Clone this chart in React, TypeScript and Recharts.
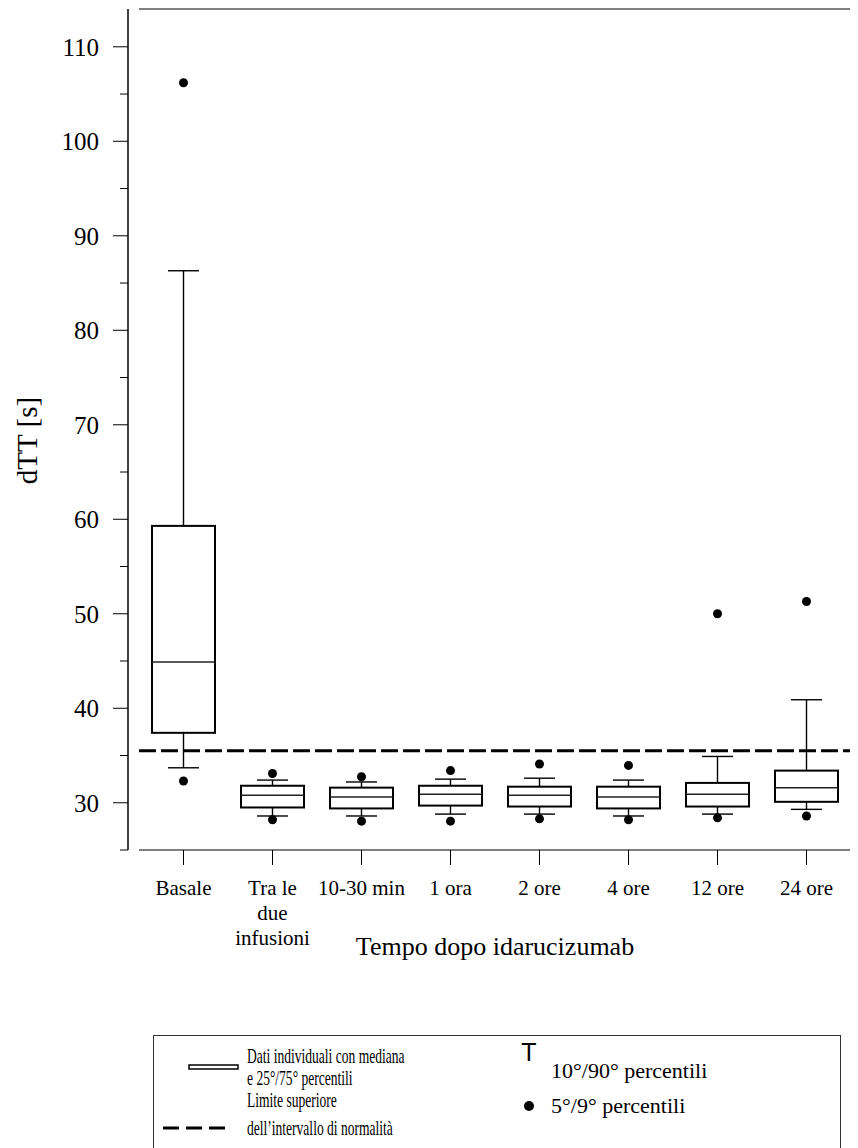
import React from 'react';
import { ComposedChart, Bar, Scatter, XAxis, YAxis, ReferenceLine } from 'recharts';

// dTT per timepoint: box = 25th/75th, whiskers = 10th/90th, dots = 5th/95th
const categories = ['Basale', 'Tra le\ndue\ninfusioni', '10-30 min', '1 ora', '2 ore', '4 ore', '12 ore', '24 ore'];
const p5 = [32.3, 28.2, 28.05, 28.05, 28.3, 28.2, 28.4, 28.6];
const p10 = [33.7, 28.6, 28.6, 28.8, 28.8, 28.6, 28.8, 29.3];
const q1 = [37.4, 29.5, 29.4, 29.7, 29.6, 29.4, 29.6, 30.1];
const median = [44.9, 30.8, 30.6, 30.9, 30.8, 30.6, 30.9, 31.6];
const q3 = [59.3, 31.8, 31.6, 31.8, 31.7, 31.7, 32.1, 33.4];
const p90 = [86.3, 32.4, 32.2, 32.5, 32.6, 32.4, 34.9, 40.9];
const p95 = [106.2, 33.1, 32.75, 33.4, 34.1, 33.95, 50.0, 51.3];

const upperNormalLimit = 35.5;
const yTicks = [25, 30, 35, 40, 45, 50, 55, 60, 65, 70, 75, 80, 85, 90, 95, 100, 105, 110];
const yLabelled = [30, 40, 50, 60, 70, 80, 90, 100, 110];

const data = categories.map((name, i) => ({
  name,
  p5: p5[i],
  p10: p10[i],
  q1: q1[i],
  median: median[i],
  q3: q3[i],
  p90: p90[i],
  p95: p95[i],
}));

const SERIF = '"Liberation Serif", "Times New Roman", serif';
const SANS = '"Liberation Sans", Arial, sans-serif';

// the bar spans p10..p90, everything else is placed relative to it
const BoxShape = (props: any) => {
  const { x, y, width, height, payload } = props;
  const k = height / (payload.p90 - payload.p10);
  const toY = (v: number) => y + (payload.p90 - v) * k;
  const cx = x + width / 2;
  const cap = 15.5;
  const top = toY(payload.q3);
  const bottom = toY(payload.q1);
  return (
    <g>
      <line x1={cx} x2={cx} y1={y} y2={y + height} stroke="#000" strokeWidth={1.4} />
      <line x1={cx - cap} x2={cx + cap} y1={y} y2={y} stroke="#000" strokeWidth={1.4} />
      <line x1={cx - cap} x2={cx + cap} y1={y + height} y2={y + height} stroke="#000" strokeWidth={1.4} />
      <rect x={x} y={top} width={width} height={bottom - top} fill="#fff" stroke="#000" strokeWidth={2} />
      <line x1={x} x2={x + width} y1={toY(payload.median)} y2={toY(payload.median)} stroke="#222" strokeWidth={1.5} />
    </g>
  );
};

const Dot = (props: any) => <circle cx={props.cx} cy={props.cy} r={4.5} fill="#000" />;

const YTick = (props: any) => {
  const { x, y, payload } = props;
  const major = yLabelled.includes(payload.value);
  return (
    <g>
      <line x1={x - (major ? 15 : 8)} x2={x} y1={y} y2={y} stroke="#000" strokeWidth={1} />
      {major && (
        <text x={x - 29} y={y} dy="0.35em" textAnchor="end" fontFamily={SERIF} fontSize={25} fill="#000">
          {payload.value}
        </text>
      )}
    </g>
  );
};

const XTick = (props: any) => {
  const { x, y, payload } = props;
  const lines = String(payload.value).split('\n');
  return (
    <text x={x} y={y + 30} textAnchor="middle" fontFamily={SERIF} fontSize={21} fill="#000">
      {lines.map((l, i) => (
        <tspan key={i} x={x} dy={i === 0 ? 0 : 25}>
          {l}
        </tspan>
      ))}
    </text>
  );
};

const YTitle = (props: any) => {
  const { x, y, height } = props.viewBox;
  const cx = x + 19;
  const cy = y + height / 2 + 11;
  return (
    <text x={cx} y={cy} transform={`rotate(-90 ${cx} ${cy})`} textAnchor="middle" dominantBaseline="central" fontFamily={SERIF} fontSize={29} fill="#000">
      dTT [s]
    </text>
  );
};

const XTitle = (props: any) => {
  const { x, y, width } = props.viewBox;
  return (
    <text x={x + width / 2} y={y + 105} textAnchor="middle" fontFamily={SERIF} fontSize={26} fill="#000">
      Tempo dopo idarucizumab
    </text>
  );
};

const LegendBox = () => (
  <div
    style={{
      position: 'fixed',
      left: 153,
      top: 1035,
      width: 688,
      height: 140,
      border: '1.5px solid #333',
      boxSizing: 'border-box',
      background: '#fff',
    }}
  >
    <svg width={686} height={138} style={{ display: 'block' }}>
      <rect x={35} y={29} width={49} height={4} fill="#fff" stroke="#000" strokeWidth={1.5} />
      <line x1={9} x2={75} y1={92} y2={92} stroke="#000" strokeWidth={3} strokeDasharray="16 7" />
      {/* left column is set in a narrow face */}
      <g transform="translate(93 0) scale(0.63 1)">
        <text fontFamily={SERIF} fontSize={21.5} fill="#000">
          <tspan x={0} y={27}>Dati individuali con mediana</tspan>
          <tspan x={0} y={49}>e 25°/75° percentili</tspan>
          <tspan x={0} y={71}>Limite superiore</tspan>
          <tspan x={0} y={99}>dell’intervallo di normalità</tspan>
        </text>
      </g>
      <text x={375} y={25} textAnchor="middle" fontFamily={SANS} fontSize={25} fill="#000">
        T
      </text>
      <circle cx={375} cy={70} r={5} fill="#000" />
      <text fontFamily={SERIF} fontSize={22} fill="#000">
        <tspan x={397} y={42}>10°/90° percentili</tspan>
        <tspan x={397} y={77}>5°/9° percentili</tspan>
      </text>
    </svg>
  </div>
);

export default function App() {
  return (
    <div>
      <ComposedChart width={850} height={1000} data={data} margin={{ top: 0, right: 7, bottom: 38, left: 0 }}>
        <XAxis xAxisId="top" orientation="top" dataKey="name" height={1} tick={false} tickLine={false} axisLine={{ stroke: '#000', strokeWidth: 1.2 }} />
        <XAxis
          xAxisId="cat"
          dataKey="name"
          height={120}
          interval={0}
          tickSize={15}
          tickMargin={0}
          tickLine={{ stroke: '#000', strokeWidth: 1 }}
          axisLine={{ stroke: '#000', strokeWidth: 1.2 }}
          tick={<XTick />}
          label={<XTitle />}
        />
        <YAxis yAxisId="gap" width={11} axisLine={false} tick={false} tickLine={false} />
        <YAxis
          yAxisId="main"
          width={120}
          domain={[25, 114]}
          allowDataOverflow
          ticks={yTicks}
          interval={0}
          tickSize={0}
          tickMargin={0}
          tickLine={false}
          axisLine={{ stroke: '#000', strokeWidth: 1.5 }}
          tick={<YTick />}
          label={<YTitle />}
        />
        <Bar
          xAxisId="cat"
          yAxisId="main"
          dataKey={(d: any) => [d.p10, d.p90]}
          barSize={63}
          shape={<BoxShape />}
          isAnimationActive={false}
        />
        <ReferenceLine xAxisId="cat" yAxisId="main" y={upperNormalLimit} stroke="#000" strokeWidth={3} strokeDasharray="17 5" />
        <Scatter xAxisId="cat" yAxisId="main" dataKey="p95" shape={<Dot />} isAnimationActive={false} />
        <Scatter xAxisId="cat" yAxisId="main" dataKey="p5" shape={<Dot />} isAnimationActive={false} />
      </ComposedChart>
      <LegendBox />
    </div>
  );
}
